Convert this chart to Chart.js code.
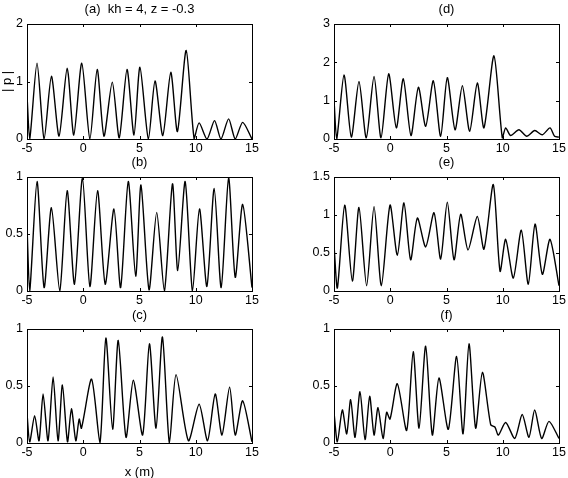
<!DOCTYPE html>
<html><head><meta charset="utf-8">
<script src="https://cdn.jsdelivr.net/npm/chart.js@4.4.0/dist/chart.umd.min.js"></script>
<style>
html,body{margin:0;padding:0;background:#fff;width:568px;height:478px;overflow:hidden;position:relative;}
canvas{position:absolute;}
</style></head><body>
<script>
// ---- tick labels ----
const xTicks = [-5, 0, 5, 10, 15];
const yTicksA = [0, 1, 2];
const yTicksD = [0, 1, 2, 3];
const yTicksB = [0, 0.5, 1];
const yTicksE = [0, 0.5, 1, 1.5];
const yTicksC = [0, 0.5, 1];
const yTicksF = [0, 0.5, 1];

// ---- panel titles ----
const titles = ['(a)  kh = 4, z = -0.3', '(b)', '(c)', '(d)', '(e)', '(f)'];

// ---- series values (x in m, |p|) ----
const aX = [-5, -4.76, -4.11, -3.48, -2.83, -2.15, -1.43, -0.84, -0.13, 0.59, 1.24, 1.84, 2.58, 3.2, 3.89, 4.51, 5.04, 5.79, 6.38, 7.07, 7.78, 8.37, 9.15, 9.86, 10.3, 11.0, 11.67, 12.24, 12.92, 13.51, 14.17, 15];
const aY = [0.77, 0, 1.32, 0, 1.09, 0.05, 1.23, 0.07, 1.32, 0, 1.21, 0.05, 0.99, 0.02, 1.21, 0.07, 1.25, 0, 1.01, 0.06, 1.16, 0.13, 1.54, 0, 0.28, 0, 0.32, 0, 0.35, 0, 0.29, 0];

const bX = [-5, -4.76, -4.11, -3.48, -2.83, -2.09, -1.43, -0.78, -0.07, 0.59, 1.27, 1.95, 2.73, 3.32, 4.0, 4.66, 5.13, 5.85, 6.53, 7.21, 7.93, 8.40, 9.06, 9.71, 10.33, 10.99, 11.64, 12.26, 12.92, 13.51, 14.17, 15];
const bY = [0.57, 0, 0.96, 0.03, 0.73, 0, 0.88, 0.06, 0.99, 0.04, 0.88, 0.06, 0.72, 0.03, 0.96, 0.13, 0.93, 0.01, 0.69, 0, 0.94, 0.18, 0.96, 0, 0.72, 0.04, 0.90, 0.03, 0.99, 0.12, 0.76, 0.03];

const cX = [-5, -4.76, -4.32, -3.93, -3.57, -3.13, -2.68, -2.24, -1.85, -1.40, -1.05, -0.66, -0.36, -0.16, 0.74, 1.48, 2.01, 2.61, 3.11, 3.80, 4.45, 5.28, 5.88, 6.47, 7.04, 7.66, 8.25, 9.35, 10.30, 11.05, 11.73, 12.33, 13.01, 13.51, 14.17, 15];
const cY = [0.26, 0.01, 0.24, 0.02, 0.43, 0.02, 0.58, 0.02, 0.51, 0.01, 0.30, 0.02, 0.21, 0.13, 0.56, 0, 0.92, 0.12, 0.90, 0.05, 0.55, 0.07, 0.87, 0.13, 0.93, 0, 0.60, 0.02, 0.34, 0.02, 0.43, 0.07, 0.49, 0.07, 0.37, 0.01];

const dX = [-5, -4.76, -4.11, -3.46, -2.78, -2.13, -1.44, -0.82, -0.14, 0.54, 1.16, 1.84, 2.50, 3.15, 3.83, 4.48, 5.07, 5.76, 6.41, 7.06, 7.74, 8.33, 9.22, 9.96, 10.26, 10.7, 11.44, 12.13, 12.84, 13.52, 14.2, 14.61, 15];
const dY = [1.02, 0, 1.67, 0.05, 1.50, 0.03, 1.63, 0.03, 1.70, 0.29, 1.57, 0.09, 1.35, 0.33, 1.52, 0.07, 1.60, 0.24, 1.39, 0.2, 1.46, 0.29, 2.17, 0.03, 0.29, 0.09, 0.24, 0.07, 0.22, 0.11, 0.29, 0.07, 0.05];

const eX = [-5, -4.7, -4.05, -3.37, -2.78, -2.10, -1.44, -0.79, -0.02, 0.63, 1.22, 1.81, 2.41, 3.15, 3.89, 4.48, 5.07, 5.67, 6.26, 6.91, 7.74, 8.33, 9.16, 9.76, 10.26, 10.94, 11.65, 12.27, 12.87, 13.52, 14.2, 15];
const eY = [0.61, 0.04, 1.13, 0.13, 1.10, 0.07, 1.11, 0.07, 1.13, 0.47, 1.16, 0.41, 0.96, 0.58, 1.03, 0.42, 1.17, 0.41, 1.01, 0.54, 0.98, 0.55, 1.40, 0.26, 0.68, 0.17, 0.80, 0.09, 0.88, 0.22, 0.68, 0.07];

const fX = [-5, -4.70, -4.26, -3.87, -3.52, -3.13, -2.69, -2.24, -1.83, -1.44, -1.09, -0.64, -0.32, -0.02, 0.63, 1.46, 2.04, 2.56, 3.15, 3.74, 4.33, 5.16, 5.90, 6.47, 7.0, 7.59, 8.19, 8.93, 9.30, 9.61, 10.26, 11.07, 11.73, 12.33, 12.84, 13.46, 14.11, 15];
const fY = [0.27, 0.01, 0.29, 0.08, 0.38, 0.05, 0.45, 0.03, 0.41, 0.07, 0.31, 0.04, 0.27, 0.21, 0.52, 0.11, 0.80, 0.13, 0.85, 0.07, 0.57, 0.12, 0.76, 0.08, 0.87, 0.13, 0.62, 0.16, 0.14, 0.07, 0.18, 0.04, 0.25, 0.05, 0.29, 0.04, 0.19, 0.04];

const FONT = "'Liberation Sans', Arial, Helvetica, sans-serif";
Chart.defaults.font.family = FONT;
Chart.defaults.color = '#000';

// layout of each panel (plot area in page pixels)
const panels = [
  {title: titles[0], xs: aX, ys: aY, yTicks: yTicksA, cl: 0,   L: 27,  T: 24,  R: 252, B: 139, tTop: 1.2, yTitle: '| p |'},
  {title: titles[1], xs: bX, ys: bY, yTicks: yTicksB, cl: 0,   L: 27,  T: 177, R: 252, B: 291, tTop: 1.7},
  {title: titles[2], xs: cX, ys: cY, yTicks: yTicksC, cl: 0,   L: 27,  T: 329, R: 252, B: 443, tTop: 2.2, xTitle: 'x (m)'},
  {title: titles[3], xs: dX, ys: dY, yTicks: yTicksD, cl: 294, L: 334, T: 24,  R: 559, B: 139, tTop: 1.2},
  {title: titles[4], xs: eX, ys: eY, yTicks: yTicksE, cl: 294, L: 334, T: 177, R: 559, B: 291, tTop: 1.7},
  {title: titles[5], xs: fX, ys: fY, yTicks: yTicksF, cl: 294, L: 334, T: 329, R: 559, B: 443, tTop: 2.2}
];

const boxPlugin = {
  id: 'matlabBox',
  afterDraw(chart) {
    const {ctx, chartArea: ca, scales: {x, y}} = chart;
    const l = Math.round(ca.left), t = Math.round(ca.top), r = Math.round(ca.right), b = Math.round(ca.bottom);
    ctx.save();
    ctx.strokeStyle = '#000';
    ctx.lineWidth = 1;
    ctx.strokeRect(l + 0.5, t + 0.5, r - l, b - t);
    const tl = 3;
    ctx.beginPath();
    x.ticks.forEach(tk => {
      const px = Math.round(x.getPixelForValue(tk.value)) + 0.5;
      if (px <= l + 1 || px >= r) return;
      ctx.moveTo(px, b); ctx.lineTo(px, b - tl);
      ctx.moveTo(px, t); ctx.lineTo(px, t + tl);
    });
    y.ticks.forEach(tk => {
      const py = Math.round(y.getPixelForValue(tk.value)) + 0.5;
      if (py <= t + 1 || py >= b) return;
      ctx.moveTo(l, py); ctx.lineTo(l + tl, py);
      ctx.moveTo(r, py); ctx.lineTo(r - tl, py);
    });
    ctx.stroke();
    ctx.restore();
  }
};

panels.forEach(p => {
  const padT = 24;
  const padB = p.xTitle ? 37 : 22;
  const padL = p.L - p.cl;
  const padR = p.cl === 0 ? 10 : 9;
  const cTop = p.T - padT;
  const w = (p.R - p.cl) + padR;
  const h = (p.B - cTop) + padB;
  const cv = document.createElement('canvas');
  cv.width = w; cv.height = h;
  cv.style.left = p.cl + 'px'; cv.style.top = cTop + 'px';
  cv.style.width = w + 'px'; cv.style.height = h + 'px';
  document.body.appendChild(cv);
  const tickFont = {family: FONT, size: 12.5, weight: 'normal', lineHeight: 1.2};
  const titleFont = {family: FONT, size: 13, weight: 'normal', lineHeight: 1.2};
  const yMax = p.yTicks[p.yTicks.length - 1];
  new Chart(cv, {
    type: 'line',
    data: {
      datasets: [{
        data: p.xs.map((xv, i) => ({x: xv, y: p.ys[i]})),
        borderColor: '#000',
        borderWidth: 1.4,
        pointRadius: 0,
        tension: 0.25,
        fill: false
      }]
    },
    options: {
      responsive: false,
      animation: false,
      devicePixelRatio: 1,
      events: [],
      layout: {padding: {left: 0, right: padR, top: 0, bottom: 0}},
      plugins: {
        legend: {display: false},
        tooltip: {enabled: false},
        title: {
          display: true, text: p.title, fullSize: false, color: '#000',
          font: titleFont,
          padding: {top: p.tTop, bottom: padT - p.tTop - 15.6}
        }
      },
      scales: {
        x: {
          type: 'linear', min: -5, max: 15,
          afterBuildTicks: s => { s.ticks = xTicks.map(v => ({value: v})); },
          afterFit: s => { s.height = padB; s.paddingLeft = 0; s.paddingRight = 0; },
          grid: {display: false, drawTicks: false},
          border: {display: false},
          ticks: {color: '#000', font: tickFont, padding: 2, maxRotation: 0, autoSkip: false, callback: v => String(v)},
          title: p.xTitle ? {display: true, text: p.xTitle, color: '#000', font: titleFont, padding: 0} : {display: false}
        },
        y: {
          type: 'linear', min: 0, max: yMax,
          afterBuildTicks: s => { s.ticks = p.yTicks.map(v => ({value: v})); },
          afterFit: s => { s.width = padL; s.paddingTop = 0; s.paddingBottom = 0; },
          grid: {display: false, drawTicks: false},
          border: {display: false},
          ticks: {color: '#000', font: tickFont, padding: 4, autoSkip: false, callback: v => String(v)},
          title: p.yTitle ? {display: true, text: p.yTitle, color: '#000', font: titleFont, padding: 0} : {display: false}
        }
      }
    },
    plugins: [boxPlugin]
  });
});
</script>
</body></html>
